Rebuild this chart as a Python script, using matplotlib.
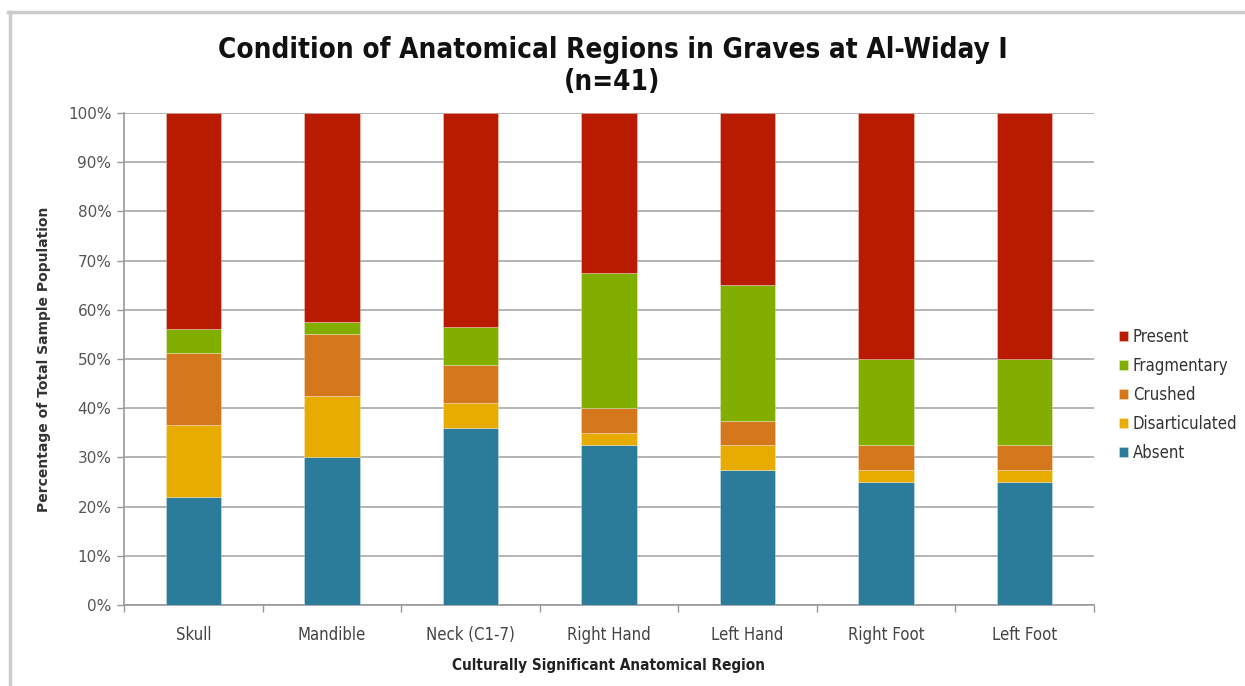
import matplotlib
matplotlib.use("Agg")
import matplotlib.pyplot as plt
from matplotlib.lines import Line2D
import numpy as np

regions = ["Skull", "Mandible", "Neck (C1-7)", "Right Hand", "Left Hand",
           "Right Foot", "Left Foot"]
absent = [21.95, 30.0, 35.90, 32.5, 27.5, 25.0, 25.0]
disarticulated = [14.63, 12.5, 5.13, 2.5, 5.0, 2.5, 2.5]
crushed = [14.63, 12.5, 7.69, 5.0, 5.0, 5.0, 5.0]
fragmentary = [4.88, 2.5, 7.69, 27.5, 27.5, 17.5, 17.5]
present = [43.91, 42.5, 43.59, 32.5, 35.0, 50.0, 50.0]

series = [
    ("Absent", absent, "#2b7b9b"),
    ("Disarticulated", disarticulated, "#e8ab00"),
    ("Crushed", crushed, "#d5781c"),
    ("Fragmentary", fragmentary, "#82ae00"),
    ("Present", present, "#b81b00"),
]

cond = dict(family="DejaVu Sans", stretch="condensed")

fig = plt.figure(figsize=(12.45, 6.86), dpi=100)
ax = fig.add_axes([124 / 1245, 81 / 686, 970 / 1245, 492 / 686])

x = np.arange(len(regions))
bottom = np.zeros(len(regions))
handles = []
for name, vals, color in series:
    b = ax.bar(x, vals, width=0.4, bottom=bottom, color=color,
               edgecolor=(1, 1, 1, 0.35), linewidth=0.6, label=name, zorder=3)
    bottom += np.array(vals)
    handles.append(b)

ax.set_xlim(-0.5, len(regions) - 0.5)
ax.set_ylim(0, 100)
ax.set_yticks(np.arange(0, 101, 10))
ax.set_yticklabels([f"{v}%" for v in range(0, 101, 10)], color="#555555",
                   fontsize=11)
ax.yaxis.grid(True, color="#b4b4b4", linewidth=1.4, zorder=0)
ax.set_axisbelow(True)

# category labels centred, tick marks between categories
ax.set_xticks(x)
ax.set_xticklabels(regions, fontsize=12, color="#444444", **cond)
ax.tick_params(axis="x", length=0, pad=15)
ax.set_xticks(np.arange(-0.5, len(regions), 1), minor=True)
ax.tick_params(axis="x", which="minor", length=5, color="#999999", width=1)
ax.tick_params(axis="y", length=5, color="#999999", width=1, pad=4)

for side in ["top", "right"]:
    ax.spines[side].set_visible(False)
for side in ["left", "bottom"]:
    ax.spines[side].set_color("#999999")
    ax.spines[side].set_linewidth(1.2)

ax.set_ylabel("Percentage of Total Sample Population", fontsize=10,
              fontweight="bold", color="#333333", labelpad=12)
ax.set_xlabel("Culturally Significant Anatomical Region", fontsize=11,
              fontweight="bold", color="#222222", labelpad=10, **cond)

fig.suptitle("Condition of Anatomical Regions in Graves at Al-Widay I\n(n=41)",
             x=0.492, y=0.948, fontsize=20, fontweight="bold",
             color="#111111", linespacing=1.2, **cond)

leg = ax.legend(handles[::-1], [s[0] for s in series][::-1],
                loc="center left", bbox_to_anchor=(1.01, 0.427), frameon=False,
                prop={"size": 12, **cond}, handlelength=0.55,
                handleheight=0.55, handletextpad=0.3, labelspacing=0.66)
for t in leg.get_texts():
    t.set_color("#333333")

# gray frame along the top and left edge
fig.add_artist(Line2D([8 / 1245, 1], [1 - 12 / 686, 1 - 12 / 686],
                      transform=fig.transFigure, color="#cccccc", linewidth=2.5))
fig.add_artist(Line2D([10 / 1245, 10 / 1245], [0, 1 - 12 / 686],
                      transform=fig.transFigure, color="#cccccc", linewidth=2.5))

fig.savefig("out.png", dpi=100)
